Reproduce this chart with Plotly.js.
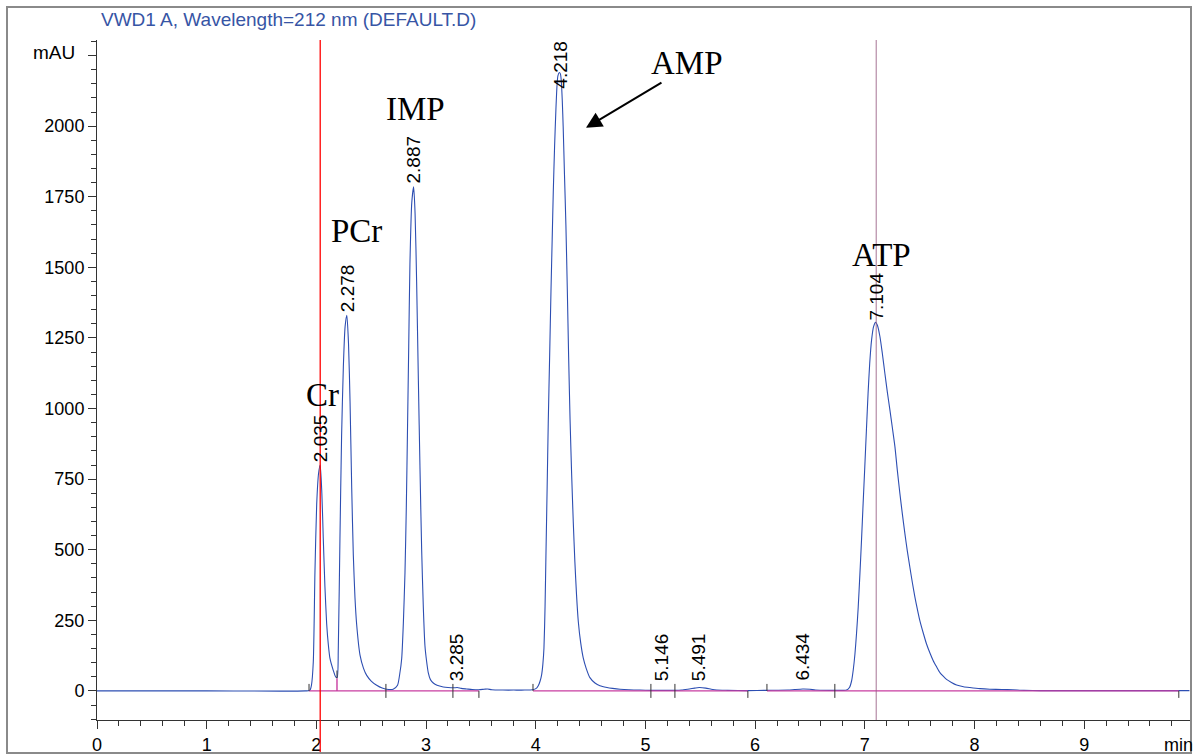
<!DOCTYPE html>
<html>
<head>
<meta charset="utf-8">
<script src="https://cdn.plot.ly/plotly-3.0.1.min.js"></script>
<style>html,body{margin:0;padding:0;background:#fff;}#chart{width:1195px;height:756px;}</style>
</head>
<body>
<div id="chart"></div>
<script>
// ---- Data (time in min, signal in mAU) ----
const timeMin = [0.00,1.00,1.90,1.94,1.955,1.972,1.987,2.003,2.02,2.035,2.05,2.063,2.078,2.094,2.11,2.124,2.154,2.176,2.19,
  2.20,2.215,2.23,2.246,2.262,2.278,2.293,2.307,2.322,2.337,2.352,2.367,2.398,2.43,2.459,2.50,2.55,2.60,2.64,2.70,2.74,2.76,
  2.778,2.793,2.808,2.82,2.83,2.842,2.853,2.87,2.887,2.90,2.914,2.93,2.945,2.96,2.975,2.99,3.005,3.02,3.04,3.066,3.10,3.157,
  3.20,3.25,3.285,3.32,3.37,3.42,3.48,3.53,3.56,3.60,3.70,3.80,3.90,3.97,4.008,4.023,4.04,4.054,4.065,4.075,4.085,4.093,
  4.104,4.114,4.127,4.139,4.15,4.16,4.172,4.184,4.195,4.202,4.215,4.225,4.233,4.242,4.25,4.262,4.275,4.288,4.30,4.313,
  4.327,4.342,4.357,4.372,4.388,4.41,4.433,4.46,4.494,4.54,4.585,4.65,4.70,4.768,4.85,4.95,5.05,5.146,5.27,5.33,5.40,5.45,
  5.491,5.55,5.60,5.65,5.75,5.93,6.10,6.30,6.36,6.434,6.50,6.55,6.70,6.80,6.834,6.86,6.88,6.895,6.91,6.925,6.94,6.955,6.97,
  6.985,7.0,7.015,7.03,7.045,7.062,7.08,7.098,7.115,7.138,7.16,7.183,7.205,7.229,7.252,7.275,7.297,7.32,7.343,7.366,7.388,
  7.411,7.434,7.457,7.48,7.502,7.533,7.563,7.594,7.624,7.655,7.685,7.715,7.745,7.79,7.837,7.90,7.958,8.05,8.14,8.25,8.35,
  8.45,8.6,9.0,9.5,9.96];
const signalMAU = [0,0,0,2,20,103,419,662,770,800,700,540,370,237,160,115,73,50,48,
  150,540,904,1147,1290,1330,1230,1026,722,480,330,237,127,80,55,35,20,10,6,6,20,60,
  115,240,419,650,904,1220,1511,1730,1785,1690,1451,1100,783,500,297,160,105,65,40,28,20,14,
  12,11,12,9,7,5,4,6,7,4,3,3,3,4,10,18,35,58,95,152,300,480,
  720,948,1190,1416,1600,1767,1930,2060,2150,2178,2190,2185,2160,2090,2000,1830,1650,1420,1182,960,
  772,600,456,340,246,170,117,80,47,28,18,12,9,6,4,3,2,2,2,3,7,10,
  12,10,6,3,2,1,2,3,5,7,6,3,2,2,3,12,36,75,130,205,296,410,533,
  665,793,925,1054,1160,1243,1290,1305,1295,1255,1195,1125,1060,995,930,864,780,699,625,556,495,
  438,383,332,288,249,205,166,134,107,85,65,52,41,30,21,15,12,8,6,5,4,
  2,1,1,1,1];

// integration baseline segments (start/end times)
const baselineStart = [1.933, 3.975, 6.108];
const baselineEnd   = [3.482, 5.934, 9.863];

// retention-time labels
const rtTimes  = [2.035, 2.278, 2.887, 3.285, 4.218, 5.146, 5.491, 6.434, 7.104];
const rtLabels = ['2.035','2.278','2.887','3.285','4.218','5.146','5.491','6.434','7.104'];

// peak boundary marks
const markTimes = [1.933, 2.634, 3.245, 3.482, 3.975, 5.05, 5.269, 5.934, 6.108, 6.727, 9.863];
const markKinds = ['above','cross','cross','below','above','cross','cross','below','above','cross','below'];
const dropTime = 2.188, dropValue = 45;

// compound names
const compoundNames = ['Cr','PCr','IMP','AMP','ATP'];

// axis ticks
const xTickVals = [0,1,2,3,4,5,6,7,8,9];
const yTickVals = [0,250,500,750,1000,1250,1500,1750,2000,2250];
const yTickText = ['0','250','500','750','1000','1250','1500','1750','2000',''];

// ---- layout geometry ----
const W = 1195, H = 756;
const M = {l:97, r:5, t:40, b:36};
const plotW = W - M.l - M.r, plotH = H - M.t - M.b;
const xRange = [0, 9.965];
const yRange = [-103, 2305];
const px2paperX = px => (px - M.l) / plotW;
const px2paperY = py => (H - M.b - py) / plotH;
const unitPx = plotH / (yRange[1] - yRange[0]);

function valueAt(t) {
  for (let i = 1; i < timeMin.length; i++) {
    if (timeMin[i] >= t) {
      const f = (t - timeMin[i-1]) / (timeMin[i] - timeMin[i-1]);
      return signalMAU[i-1] + f * (signalMAU[i] - signalMAU[i-1]);
    }
  }
  return 0;
}

const blue = 'rgb(45,78,178)';
const pink = 'rgb(200,60,160)';
const dark = '#333333';
const sans = 'Liberation Sans, Arial, sans-serif';

const traces = [
  {x: timeMin, y: signalMAU, type: 'scatter', mode: 'lines', line: {color: blue, width: 1.1, shape: 'spline', smoothing: 0.6}, hoverinfo: 'skip'}
];
const bx = [], by = [];
baselineStart.forEach((s, i) => { bx.push(s, baselineEnd[i], null); by.push(0, 0, null); });
traces.push({x: bx, y: by, type: 'scatter', mode: 'lines', line: {color: pink, width: 1.4}, connectgaps: false, hoverinfo: 'skip'});

const shapes = [];
// outer frame
shapes.push({type: 'rect', xref: 'paper', yref: 'paper', x0: px2paperX(7), x1: px2paperX(1191), y0: px2paperY(753), y1: px2paperY(7),
  line: {color: '#8a8a8a', width: 2}, fillcolor: 'rgba(0,0,0,0)', layer: 'above'});
// reference lines
shapes.push({type: 'line', xref: 'x', yref: 'paper', x0: rtTimes[0], x1: rtTimes[0], y0: px2paperY(752), y1: 1, line: {color: 'rgb(255,0,0)', width: 1.3}, layer: 'above'});
shapes.push({type: 'line', xref: 'x', yref: 'paper', x0: rtTimes[8], x1: rtTimes[8], y0: 0, y1: 1, line: {color: 'rgba(150,90,130,0.85)', width: 1}, layer: 'above'});
// boundary marks
const markLen = 7 / unitPx;
markTimes.forEach((t, i) => {
  const k = markKinds[i];
  const y0 = k === 'above' ? 0 : -markLen;
  const y1 = k === 'below' ? 0 : markLen;
  shapes.push({type: 'line', xref: 'x', yref: 'y', x0: t, x1: t, y0: y0, y1: y1, line: {color: dark, width: 1}});
});
shapes.push({type: 'line', xref: 'x', yref: 'y', x0: dropTime, x1: dropTime, y0: 0, y1: dropValue, line: {color: pink, width: 1.4}});
shapes.push({type: 'line', xref: 'x', yref: 'y', x0: dropTime, x1: dropTime, y0: dropValue, y1: dropValue + markLen * 1.1, line: {color: dark, width: 1}});

const annotations = [];
// retention time labels
rtTimes.forEach((t, i) => {
  const v = valueAt(t);
  const ann = {x: t, xref: 'x', yref: 'y', text: rtLabels[i], showarrow: false, textangle: -90,
    font: {family: sans, size: 19, color: '#000'}, xanchor: 'center', borderpad: 0};
  if ((yRange[1] - v) * unitPx < 50) { ann.y = yRange[1]; ann.yanchor = 'top'; ann.yshift = 0; }
  else if (v * unitPx < 8) { ann.y = 0; ann.yanchor = 'bottom'; ann.yshift = 9; }
  else { ann.y = v; ann.yanchor = 'bottom'; ann.yshift = 2; }
  annotations.push(ann);
});
// compound names
const compoundPos = [[2.06, 1047], [2.37, 1630], [2.908, 2062], [5.378, 2224], [7.156, 1545]];
compoundNames.forEach((n, i) => {
  annotations.push({x: compoundPos[i][0], y: compoundPos[i][1], xref: 'x', yref: 'y', text: n, showarrow: false,
    font: {family: 'Liberation Serif, Times New Roman, serif', size: 33, color: '#000'}, xanchor: 'center', yanchor: 'middle'});
});
// arrow to AMP
annotations.push({x: 4.458, y: 1994, xref: 'x', yref: 'y', ax: 5.16, ay: 2157, axref: 'x', ayref: 'y', text: '', showarrow: true,
  arrowhead: 2, arrowsize: 1.6, arrowwidth: 2, arrowcolor: '#000', standoff: 0});
// axis unit labels
annotations.push({xref: 'paper', yref: 'paper', x: px2paperX(54), y: px2paperY(52), text: 'mAU', showarrow: false,
  font: {family: sans, size: 19, color: '#000'}, xanchor: 'center', yanchor: 'middle'});
annotations.push({xref: 'paper', yref: 'paper', x: px2paperX(1194), y: px2paperY(745), text: 'min', showarrow: false,
  font: {family: sans, size: 18, color: '#000'}, xanchor: 'right', yanchor: 'middle', borderpad: 0});

const layout = {
  width: W, height: H, margin: M, showlegend: false,
  paper_bgcolor: '#fff', plot_bgcolor: '#fff',
  title: {text: 'VWD1 A, Wavelength=212 nm (DEFAULT.D)', xref: 'paper', x: px2paperX(101), xanchor: 'left', yref: 'container', y: 1 - 19 / H, yanchor: 'middle',
    font: {family: sans, size: 19, color: 'rgb(55,85,165)'}},
  xaxis: {range: xRange, tickmode: 'array', tickvals: xTickVals, showgrid: false, zeroline: false,
    showline: true, linecolor: dark, linewidth: 1, ticks: 'outside', ticklen: 8, tickcolor: dark, tickwidth: 1,
    minor: {ticks: 'outside', ticklen: 5, tickcolor: dark, dtick: 0.2, tick0: 0, showgrid: false},
    tickfont: {family: sans, size: 18, color: '#000'}, fixedrange: true},
  yaxis: {range: yRange, tickmode: 'array', tickvals: yTickVals, ticktext: yTickText, showgrid: false, zeroline: false,
    showline: true, linecolor: dark, linewidth: 1, ticks: 'outside', ticklen: 8, tickcolor: dark, tickwidth: 1,
    minor: {ticks: 'outside', ticklen: 5, tickcolor: dark, dtick: 50, tick0: 0, showgrid: false},
    tickfont: {family: sans, size: 18, color: '#000'}, fixedrange: true},
  shapes: shapes, annotations: annotations
};

Plotly.newPlot('chart', traces, layout, {staticPlot: true, displayModeBar: false});
</script>
</body>
</html>
